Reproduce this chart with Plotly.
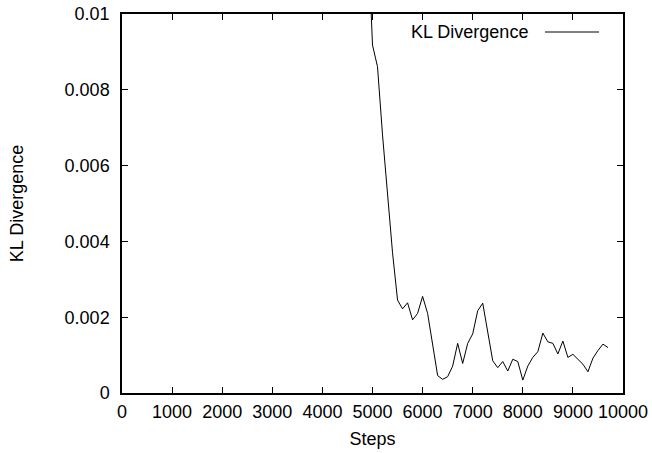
import plotly.graph_objects as go

steps = [4800, 4900, 5000, 5100, 5200, 5300, 5400, 5500, 5600, 5700, 5800, 5900,
         6000, 6100, 6200, 6300, 6400, 6500, 6600, 6700, 6800, 6900,
         7000, 7100, 7200, 7300, 7400, 7500, 7600, 7700, 7800, 7900,
         8000, 8100, 8200, 8300, 8400, 8500, 8600, 8700, 8800, 8900,
         9000, 9100, 9200, 9300, 9400, 9500, 9600, 9700]
kl = [0.0200, 0.0124, 0.00918, 0.00861, 0.00681, 0.00522, 0.00370, 0.00245, 0.00222, 0.00238,
      0.00193, 0.00210, 0.00255, 0.00210, 0.00130, 0.00046, 0.00036, 0.00043, 0.00071, 0.00131,
      0.00078, 0.00131, 0.00156, 0.00217, 0.00237, 0.00158, 0.00085, 0.00067, 0.00083, 0.00058,
      0.00089, 0.00083, 0.00034, 0.00071, 0.00094, 0.00109, 0.00158, 0.00135, 0.00131, 0.00103,
      0.00137, 0.00094, 0.00102, 0.00089, 0.00076, 0.00056, 0.00092, 0.00112, 0.00129, 0.00120]

x_ticks = [0, 1000, 2000, 3000, 4000, 5000, 6000, 7000, 8000, 9000, 10000]
x_tick_text = [str(v) for v in x_ticks]
y_ticks = [0, 0.002, 0.004, 0.006, 0.008, 0.01]
y_tick_text = ["0", "0.002", "0.004", "0.006", "0.008", "0.01"]

FONT = "Liberation Sans, Arial, sans-serif"
FS = 18

fig = go.Figure()
fig.add_trace(go.Scatter(x=steps, y=kl, mode="lines", name="KL Divergence",
                         line=dict(color="black", width=1), showlegend=False))

axis_common = dict(showline=True, linecolor="black", linewidth=1.5, mirror="ticks",
                   ticks="inside", ticklen=6, tickwidth=1, tickcolor="black",
                   showgrid=False, zeroline=False, automargin=False,
                   tickfont=dict(family=FONT, size=FS, color="black"))

fig.update_layout(
    width=652, height=453,
    margin=dict(l=122, r=29, t=14, b=60),
    paper_bgcolor="white", plot_bgcolor="white",
    font=dict(family=FONT, size=FS, color="black"),
    xaxis=dict(range=[0, 10000], tickvals=x_ticks, ticktext=x_tick_text,
               ticklabelstandoff=2,
               title=dict(text="Steps", font=dict(family=FONT, size=FS), standoff=11),
               **axis_common),
    yaxis=dict(range=[0, 0.01], tickvals=y_ticks, ticktext=y_tick_text,
               ticklabelstandoff=7,
               title=dict(text="KL Divergence", font=dict(family=FONT, size=FS), standoff=36),
               **axis_common),
)

# gnuplot-style key: text then line sample
key_y = 1 - (32 - 14) / 379
fig.add_annotation(x=(530 - 122) / 501, y=key_y, xref="x domain", yref="y domain",
                   text="KL Divergence", showarrow=False, xanchor="right", yanchor="middle",
                   font=dict(family=FONT, size=FS, color="black"))
fig.add_shape(type="line", xref="x domain", yref="y domain",
              x0=(545 - 122) / 501, x1=(599 - 122) / 501, y0=key_y, y1=key_y,
              line=dict(color="black", width=1))

fig.write_html("out.html")
